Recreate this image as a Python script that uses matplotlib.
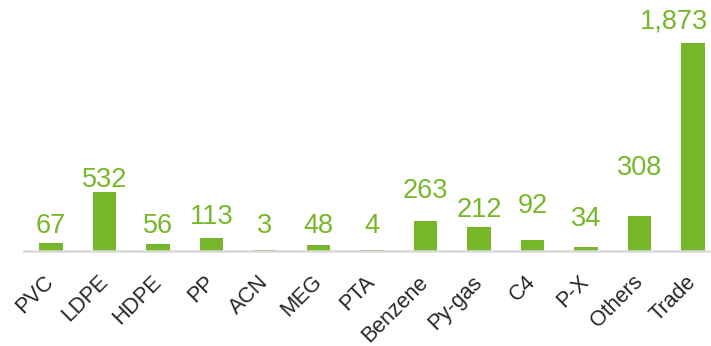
import matplotlib
matplotlib.use("Agg")
import matplotlib.pyplot as plt

categories = ["PVC", "LDPE", "HDPE", "PP", "ACN", "MEG", "PTA", "Benzene",
              "Py-gas", "C4", "P-X", "Others", "Trade"]
values = [67, 532, 56, 113, 3, 48, 4, 263, 212, 92, 34, 308, 1873]
labels = ["67", "532", "56", "113", "3", "48", "4", "263", "212", "92", "34", "308", "1,873"]

# gap (px) between each bar top and the baseline of its value label
label_gap_px = [10.4, 4.3, 11, 13.7, 16.9, 11.9, 16.8, 23.1, 10.3, 27.6, 20.7, 41.4, 14.7]
# horizontal nudge (px) of each value label
label_dx_px = [0, 0, 0, 0, 0, 0, 0, 0, 0, 0, 0, 0, -19]

green = "#76b82a"
plt.rcParams["font.family"] = ["Liberation Sans", "DejaVu Sans"]

W, H = 711, 346
DPI = 100
px = 72 / DPI
fig = plt.figure(figsize=(W / DPI, H / DPI), dpi=DPI)
step = 53.5
left = 51 - step / 2
base_y = 250.5
top_y = 43
ax = fig.add_axes([left / W, (H - base_y) / H, 13 * step / W, (base_y - top_y) / H])

x = list(range(len(categories)))
ax.bar(x, values, width=0.43, color=green, zorder=2)
ax.set_xlim(-0.5, 12.5)
ax.set_ylim(0, 1873)

for xi, v, lab, g, dx in zip(x, values, labels, label_gap_px, label_dx_px):
    ax.annotate(lab, (xi, v), xytext=(dx * px, g * px), textcoords="offset points",
                ha="center", va="baseline", color=green, fontsize=19.5,
                annotation_clip=False)

for s in ["top", "right", "left"]:
    ax.spines[s].set_visible(False)
ax.spines["bottom"].set_color("#d9d9d9")
ax.spines["bottom"].set_linewidth(1.8)
ax.set_yticks([])
ax.set_xticks(x)
ax.set_xticklabels(categories, rotation=45, ha="right", va="center",
                   rotation_mode="anchor", fontsize=15.5, color="#262626")
ax.tick_params(axis="x", length=0, pad=20.5)

fig.savefig("out.png", dpi=DPI)
